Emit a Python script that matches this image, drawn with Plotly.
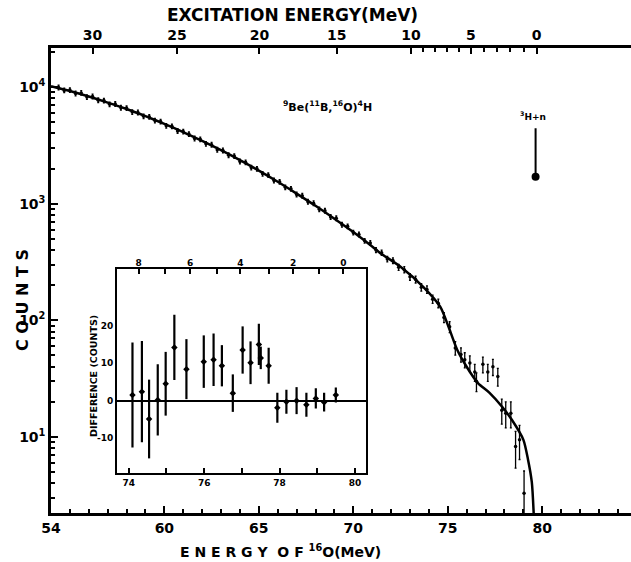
import numpy as np
import plotly.graph_objects as go

# ---------------- Main spectrum: measured counts vs 16O energy (MeV) ----------------
energy = [54.4, 54.7, 55.0, 55.3, 55.6, 55.9, 56.2, 56.5, 56.8, 57.1,
          57.4, 57.7, 58.0, 58.3, 58.6, 58.9, 59.2, 59.5, 59.8, 60.1,
          60.4, 60.7, 61.0, 61.3, 61.6, 61.9, 62.2, 62.5, 62.8, 63.1,
          63.4, 63.7, 64.0, 64.3, 64.6, 64.9, 65.2, 65.5, 65.8, 66.1,
          66.4, 66.7, 67.0, 67.3, 67.6, 67.9, 68.2, 68.5, 68.8, 69.1,
          69.4, 69.7, 70.0, 70.3, 70.6, 70.9, 71.2, 71.5, 71.8, 72.1,
          72.4, 72.7, 73.0, 73.3, 73.6, 73.9, 74.2, 74.5, 74.8, 75.1,
          75.4, 75.7, 75.90, 76.17, 76.43, 76.52, 76.86, 77.12, 77.39, 77.65,
          77.86, 78.07, 78.34, 78.59, 78.80, 79.04]
counts = [9900, 9350, 9400, 8800, 8900, 8200, 8300, 7700, 7650, 7100,
          7150, 6650, 6600, 6100, 6050, 5600, 5550, 5150, 5050, 4650,
          4600, 4200, 4150, 3950, 3620, 3560, 3260, 3200, 2900, 2860,
          2600, 2560, 2300, 2260, 2040, 1990, 1800, 1760, 1580, 1540,
          1380, 1340, 1200, 1170, 1040, 1010, 895, 870, 770, 750,
          660, 640, 565, 545, 480, 460, 400, 380, 335, 325,
          285, 272, 236, 224, 192, 184, 152, 140, 106, 88,
          58, 51, 46, 43, 36, 30, 42, 36, 40, 33,
          17, 16, 16, 8.3, 9.5, 3.3]

# Fitted curve
fit_energy = [54.0, 55.0, 56.0, 57.0, 58.0, 59.0, 60.0, 61.0, 62.0, 63.0,
              64.0, 65.0, 66.0, 67.0, 68.0, 69.0, 70.0, 71.0, 71.4, 72.5,
              73.7, 74.6, 75.1, 75.5, 76.0, 76.6, 77.2, 77.9, 78.4, 79.0,
              79.25, 79.45, 79.55]
fit_counts = [10160, 9230, 8280, 7350, 6470, 5620, 4830, 4110, 3450, 2870,
              2360, 1920, 1540, 1220, 959, 743, 571, 429, 380, 288,
              194, 131, 83, 56, 40, 29, 24, 18, 14, 9.5,
              6.4, 4.1, 2.2]

# Bottom axis ticks
e_tick_vals = [54, 60, 65, 70, 75, 80]
e_tick_text = ["54", "60", "65", "70", "75", "80"]

# Top axis: excitation energy labels at the 16O energies where they fall
ex_tick_energy = [56.20, 60.67, 65.03, 69.13, 73.05, 76.22, 79.71]
ex_tick_labels = ["30", "25", "20", "15", "10", "5", "0"]

# Left axis
count_tick_vals = [10, 100, 1000, 10000]
count_tick_text = ["10<sup>1</sup>", "10<sup>2</sup>", "10<sup>3</sup>", "10<sup>4</sup>"]

# 3H+n threshold marker
threshold_energy = 79.65
threshold_counts = 1700

# ---------------- Inset: difference (counts) ----------------
diff_energy = [74.10, 74.35, 74.54, 74.77, 74.98, 75.21, 75.53, 75.99, 76.25, 76.47,
               76.76, 77.02, 77.23, 77.45, 77.50, 77.71, 77.94, 78.18, 78.45, 78.71,
               78.96, 79.18, 79.49]
diff_counts = [1.5, 2.4, -4.9, 0.2, 4.5, 14.2, 8.4, 10.4, 10.9, 9.3,
               2.0, 13.5, 10.1, 15.0, 11.4, 9.3, -1.9, -0.3, 0.0, -1.1,
               0.6, -0.4, 1.5]
diff_err = [14.0, 13.5, 10.5, 9.5, 8.5, 8.7, 8.0, 7.0, 7.0, 5.5,
            5.0, 6.3, 5.7, 5.5, 3.0, 4.8, 4.0, 3.2, 3.6, 3.2,
            2.7, 2.5, 2.0]
inset_e_ticks = [74, 76, 78, 80]
inset_ex_energy = [74.26, 75.63, 76.96, 78.36, 79.69]
inset_ex_labels = ["8", "6", "4", "2", "0"]
inset_ex_minor = [74.97, 76.34, 77.71, 79.04]
inset_y_ticks = [-10, 0, 10, 20]
inset_y_text = ["-10", "0", "10", "20"]

# ---------------- Figure ----------------
W, H = 631, 562
ML, MR, MT, MB = 51, 0, 48, 49
PW, PH = W - ML - MR, H - MT - MB

def px(x):
    return (x - ML) / PW

def py(y):
    return (H - MB - y) / PH

FONT = "DejaVu Sans"
err = [max(0.045 * c, np.sqrt(c)) for c in counts]

fig = go.Figure()
fig.add_trace(go.Scatter(x=fit_energy, y=fit_counts, mode="lines",
                         line=dict(color="black", width=2.5, shape="spline", smoothing=0.7),
                         xaxis="x", yaxis="y", showlegend=False, hoverinfo="skip"))
fig.add_trace(go.Scatter(x=energy, y=counts, mode="markers",
                         marker=dict(color="black", size=3.5),
                         error_y=dict(type="data", array=err, color="black", thickness=1.3, width=1),
                         xaxis="x", yaxis="y", showlegend=False))
# invisible trace to activate the top axis
fig.add_trace(go.Scatter(x=[60], y=[1000], mode="markers", marker=dict(opacity=0),
                         xaxis="x2", yaxis="y", showlegend=False, hoverinfo="skip"))
# inset
fig.add_trace(go.Scatter(x=diff_energy, y=diff_counts, mode="markers",
                         marker=dict(color="black", size=5, symbol="diamond"),
                         error_y=dict(type="data", array=diff_err, color="black", thickness=2.2, width=0),
                         xaxis="x3", yaxis="y3", showlegend=False))
fig.add_trace(go.Scatter(x=[76], y=[0], mode="markers", marker=dict(opacity=0),
                         xaxis="x4", yaxis="y3", showlegend=False, hoverinfo="skip"))

minor_log = [m * 10 ** d for d in range(0, 5) for m in range(2, 10)]
ex_minor = list(np.interp([1, 2, 3, 4], [0, 5], [79.71, 76.22])) + \
           list(np.interp([6, 7, 8, 9], [5, 10], [76.22, 73.05]))

tf = dict(family=FONT, size=14, color="black", weight="bold")
tf_small = dict(family=FONT, size=9, color="black", weight="bold")

fig.update_layout(
    width=W, height=H,
    margin=dict(l=ML, r=MR, t=MT, b=MB, autoexpand=False),
    paper_bgcolor="white", plot_bgcolor="white",
    font=dict(family=FONT, color="black"),
    xaxis=dict(domain=[0, 1], anchor="y", range=[54, 84.7], automargin=False,
               showline=True, linecolor="black", linewidth=2.5, mirror=False,
               ticks="inside", ticklen=7, tickwidth=2, tickcolor="black",
               tickvals=e_tick_vals, ticktext=e_tick_text, tickfont=tf,
               minor=dict(ticks="inside", ticklen=4, tickwidth=1.5, tickcolor="black",
                          tick0=54, dtick=1, showgrid=False),
               showgrid=False, zeroline=False),
    xaxis2=dict(overlaying="x", side="top", anchor="y", range=[54, 84.7], automargin=False,
                showline=True, linecolor="black", linewidth=2.5,
                ticks="inside", ticklen=6, tickwidth=2, tickcolor="black",
                tickvals=ex_tick_energy, ticktext=ex_tick_labels, tickfont=tf,
                minor=dict(ticks="inside", ticklen=4, tickwidth=1.5, tickcolor="black",
                           tickvals=ex_minor, showgrid=False),
                showgrid=False, zeroline=False),
    yaxis=dict(domain=[0, 1], anchor="x", type="log", range=[0.349, 4.334], automargin=False,
               showline=True, linecolor="black", linewidth=2.5,
               ticks="inside", ticklen=7, tickwidth=2, tickcolor="black",
               tickvals=count_tick_vals, ticktext=count_tick_text, tickfont=tf,
               minor=dict(ticks="inside", ticklen=4, tickwidth=1.5, tickcolor="black",
                          tickvals=minor_log, showgrid=False),
               showgrid=False, zeroline=False),
    xaxis3=dict(domain=[px(117), px(366)], anchor="y3", range=[73.69, 80.29], automargin=False,
                showline=True, linecolor="black", linewidth=2, mirror=True,
                ticks="inside", ticklen=5, tickwidth=2, tickcolor="black",
                tickvals=inset_e_ticks, tickfont=tf_small,
                minor=dict(ticks="inside", ticklen=5, tickwidth=2, tickcolor="black",
                           tick0=74, dtick=1, showgrid=False),
                showgrid=False, zeroline=False),
    xaxis4=dict(overlaying="x3", side="top", anchor="y3", range=[73.69, 80.29], automargin=False,
                showline=False,
                ticks="inside", ticklen=5, tickwidth=2, tickcolor="black",
                tickvals=inset_ex_energy, ticktext=inset_ex_labels, tickfont=tf_small,
                minor=dict(ticks="inside", ticklen=5, tickwidth=2, tickcolor="black",
                           tickvals=inset_ex_minor, showgrid=False),
                showgrid=False, zeroline=False),
    yaxis3=dict(domain=[py(473), py(269)], anchor="x3", range=[-19.3, 35.1], automargin=False,
                showline=True, linecolor="black", linewidth=2, mirror=True,
                ticks="", tickvals=inset_y_ticks, ticktext=inset_y_text, tickfont=tf_small,
                showgrid=False, zeroline=True, zerolinecolor="black", zerolinewidth=2),
)

ann = [
    dict(x=px(292), y=py(15), text="EXCITATION ENERGY(MeV)",
         font=dict(family=FONT, size=17, weight="bold")),
    dict(x=px(22), y=py(300), text="C O U N T S", textangle=-90,
         font=dict(family=FONT, size=16, weight="bold")),
    dict(x=px(280), y=py(551), text="E N E R G Y  O F <sup>16</sup>O(MeV)",
         font=dict(family=FONT, size=14, weight="bold")),
    dict(x=px(327), y=py(107), text="<sup>9</sup>Be(<sup>11</sup>B,<sup>16</sup>O)<sup>4</sup>H",
         font=dict(family=FONT, size=11, weight="bold")),
    dict(x=px(533), y=py(116), text="<sup>3</sup>H+n",
         font=dict(family=FONT, size=9, weight="bold")),
    dict(x=px(93), y=py(376), text="DIFFERENCE (COUNTS)", textangle=-90,
         font=dict(family=FONT, size=9.5, weight="bold")),
]
for a in ann:
    a.update(xref="paper", yref="paper", showarrow=False, xanchor="center", yanchor="middle")
fig.update_layout(annotations=ann)
fig.add_annotation(x=threshold_energy, y=np.log10(threshold_counts), xref="x", yref="y",
                   ax=0, ay=-50, axref="pixel", ayref="pixel", text="", showarrow=True,
                   arrowhead=6, arrowsize=1, arrowwidth=2, arrowcolor="black")

fig.write_html("out.html", config={"displayModeBar": False},
               post_script="document.body.style.margin='0';document.body.style.padding='0';")
